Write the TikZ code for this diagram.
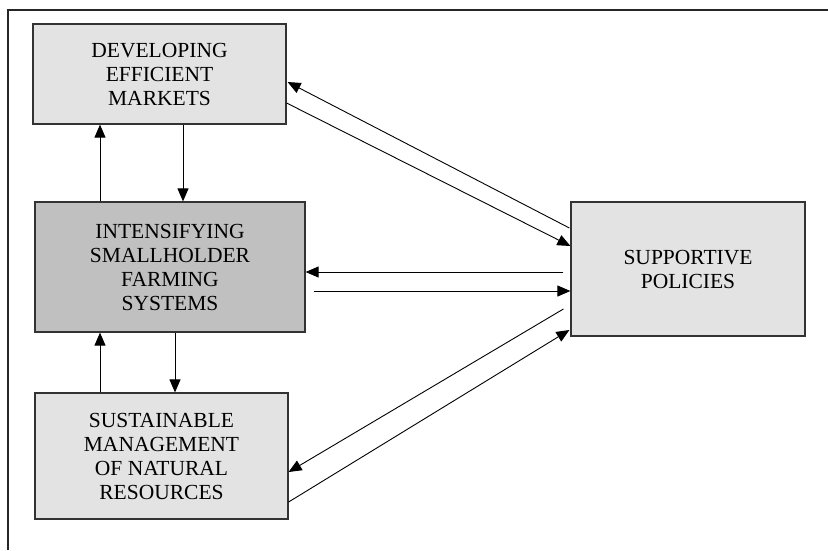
\documentclass[tikz,border=0pt]{standalone}
\usepackage{fontspec}
\setmainfont{Liberation Serif}
\usetikzlibrary{arrows.meta}
\definecolor{boxlight}{HTML}{E3E3E3}
\definecolor{boxdark}{HTML}{C0C0C0}
\definecolor{edge}{HTML}{333333}
\tikzset{
  box/.style={draw=edge, line width=1.2pt, align=center, inner sep=0pt,
    font=\fontsize{21.5}{24}\selectfont},
  lightbox/.style={box, fill=boxlight},
  darkbox/.style={box, fill=boxdark},
  arr/.style={line width=0.9pt, -{Triangle[length=13pt,width=11pt]}},
  frameline/.style={line width=1.5pt, draw=black!85}
}
\begin{document}
\begin{tikzpicture}[x=1pt,y=-1pt]
\useasboundingbox (0,0) rectangle (828,550);
\coordinate (fa) at (8,550);
\coordinate (fb) at (8,10);
\coordinate (fc) at (828,10);
\draw[frameline] (fa) -- (fb) -- (fc);

\node[lightbox, minimum width=253pt, minimum height=100pt] (mk) at (159.5,74) {DEVELOPING\\EFFICIENT\\MARKETS};
\node[darkbox, minimum width=270pt, minimum height=130pt] (in) at (170,267) {INTENSIFYING\\SMALLHOLDER\\FARMING\\SYSTEMS};
\node[lightbox, minimum width=253pt, minimum height=126pt] (su) at (161.5,456) {SUSTAINABLE\\MANAGEMENT\\OF NATURAL\\RESOURCES};
\node[lightbox, minimum width=234pt, minimum height=134pt] (sp) at (688,269) {SUPPORTIVE\\POLICIES};

\coordinate (c1) at (100,0);
\coordinate (c2) at (183,0);
\coordinate (c3) at (175,0);

\draw[arr] (in.north -| c1) -- (mk.south -| c1);
\draw[arr] (mk.south -| c2) -- (in.north -| c2);
\draw[arr] (in.south -| c3) -- (su.north -| c3);
\draw[arr] (su.north -| c1) -- (in.south -| c1);

\draw[arr] ([shift={(-1,-41)}]sp.west) -- ([shift={(1,8)}]mk.east);
\draw[arr] ([shift={(0,29)}]mk.east) -- ([shift={(0,-23)}]sp.west);
\draw[arr] ([shift={(-7,3)}]sp.west) -- ([shift={(0,5)}]in.east);
\draw[arr] ([shift={(8,24)}]in.east) -- ([shift={(0,22)}]sp.west);
\draw[arr] ([shift={(-7,40)}]sp.west) -- ([shift={(0,16)}]su.east);
\draw[arr] ([shift={(0,46)}]su.east) -- ([shift={(-1,61)}]sp.west);
\end{tikzpicture}
\end{document}
